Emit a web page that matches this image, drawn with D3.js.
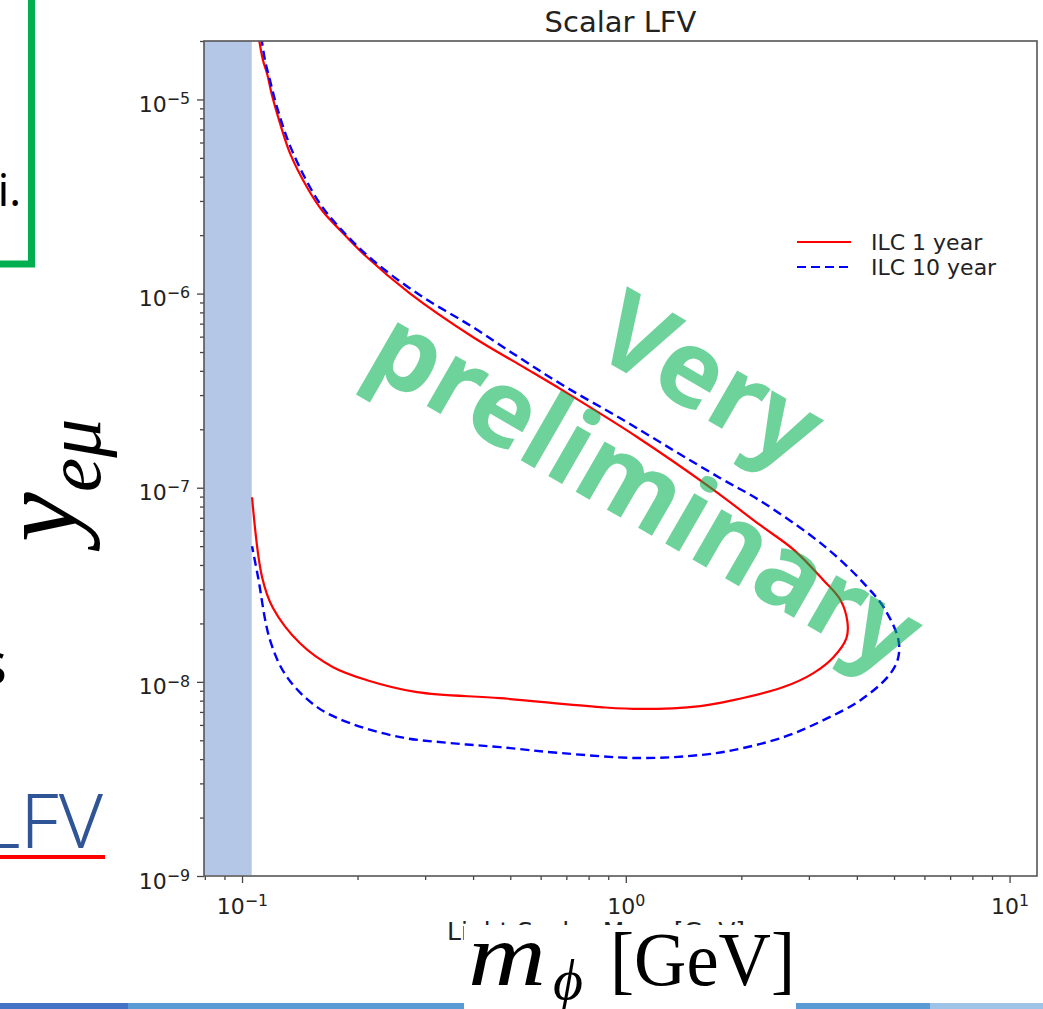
<!DOCTYPE html>
<html>
<head>
<meta charset="utf-8">
<style>
  body { margin: 0; background: #fff; overflow: hidden; }
  svg  { display: block; }
  .mpl { font-family: "DejaVu Sans", sans-serif; fill: #222; }
  .tex { font-family: "Liberation Serif", "DejaVu Serif", serif; fill: #000; }
</style>
<title>Scalar LFV</title>
</head>
<body>
<script src="https://cdn.jsdelivr.net/npm/d3@7/dist/d3.min.js"></script>
<script>

// data ///////////////////////////////////////////////////////////////////////

// ILC 1 year contour (mass in GeV, coupling y_emu)
var ilc1_mass = [0.1105, 0.1134, 0.1162, 0.1197, 0.1234, 0.1334, 0.1478, 0.1617, 0.1823, 0.2093,
                 0.2742, 0.4003, 0.5307, 0.6831, 1.072, 1.651, 2.242, 2.750, 3.273, 3.625,
                 3.781, 3.758, 3.476, 3.083, 2.575, 1.906, 1.564, 1.091, 0.858, 0.471,
                 0.286, 0.2118, 0.1727, 0.1416, 0.1204, 0.1128, 0.1062];
var ilc1_y    = [2.1e-5, 1.59e-5, 1.36e-5, 1.05e-5, 8.47e-6, 5.27e-6, 3.52e-6, 2.68e-6, 2.07e-6, 1.57e-6,
                 1.00e-6, 5.96e-7, 4.28e-7, 3.18e-7, 1.82e-7, 1.01e-7, 6.41e-8, 4.76e-8, 3.34e-8, 2.64e-8,
                 2.03e-8, 1.68e-8, 1.34e-8, 1.11e-8, 9.40e-9, 8.05e-9, 7.50e-9, 7.25e-9, 7.41e-9, 8.24e-9,
                 8.85e-9, 1.02e-8, 1.19e-8, 1.58e-8, 2.40e-8, 3.46e-8, 8.93e-8];

// ILC 10 year contour
var ilc10_mass = [0.1122, 0.1148, 0.1183, 0.1241, 0.1350, 0.1579, 0.1801, 0.2196, 0.2911, 0.4003,
                  0.5307, 0.6996, 0.9676, 1.330, 1.764, 2.229, 3.028, 3.625, 4.212, 4.693,
                  5.135, 5.105, 4.808, 4.088, 3.273, 2.575, 1.906, 1.564, 1.091, 0.675,
                  0.471, 0.3486, 0.2582, 0.1912, 0.1569, 0.1310, 0.1183, 0.1101, 0.1062];
var ilc10_y    = [2.1e-5, 1.59e-5, 1.25e-5, 8.77e-6, 5.45e-6, 3.00e-6, 2.17e-6, 1.48e-6, 9.80e-7, 6.70e-7,
                  4.65e-7, 3.29e-7, 2.28e-7, 1.56e-7, 1.12e-7, 8.62e-8, 5.69e-8, 4.24e-8, 3.15e-8, 2.43e-8,
                  1.64e-8, 1.29e-8, 1.058e-8, 8.05e-9, 6.35e-9, 5.19e-9, 4.45e-9, 4.20e-9, 4.05e-9, 4.30e-9,
                  4.61e-9, 4.84e-9, 5.19e-9, 6.13e-9, 7.41e-9, 1.058e-8, 1.64e-8, 3.46e-8, 5.00e-8];

var excluded_mass = 0.106;   // shaded band below this mass

var x_ticks = [0.1, 1, 10];
var x_exps  = ["\u22121", "0", "1"];
var y_ticks = [1e-9, 1e-8, 1e-7, 1e-6, 1e-5];
var y_exps  = ["\u22129", "\u22128", "\u22127", "\u22126", "\u22125"];

var legend_labels = ["ILC 1 year", "ILC 10 year"];

// helpers ////////////////////////////////////////////////////////////////////

var W = 1043, H = 1009;
var plot = {left: 204, top: 41, right: 1037, bottom: 876};

var svg = d3.select("body").append("svg")
    .attr("width", W)
    .attr("height", H);

var x = d3.scaleLog()
    .domain([0.0796, 11.79])
    .range([plot.left, plot.right]);

var y = d3.scaleLog()
    .domain([1e-9, 2e-5])
    .range([plot.bottom, plot.top]);

function minors(lo, hi) {
    var out = [];
    for (var e = Math.floor(Math.log10(lo)); e <= Math.ceil(Math.log10(hi)); e++)
        for (var k = 2; k <= 9; k++) {
            var v = k * Math.pow(10, e);
            if (v >= lo && v <= hi) out.push(v);
        }
    return out;
}

function power_label(sel, exps) {
    sel.selectAll("text").each(function(d, i) {
        var t = d3.select(this).text(null);
        t.append("tspan").text("10");
        t.append("tspan").attr("dy", "-0.5em").attr("font-size", "0.72em").text(exps[i]);
    });
}

// slide decoration ///////////////////////////////////////////////////////////

svg.append("rect")
    .attr("x", -10).attr("y", -10).attr("width", 41.5).attr("height", 274)
    .attr("fill", "none").attr("stroke", "#00b050").attr("stroke-width", 7);
svg.append("text")
    .attr("x", 21).attr("y", 206).attr("text-anchor", "end")
    .attr("font-family", "Noto Sans").attr("font-size", 44).attr("fill", "#000")
    .text("i.");

svg.append("text")
    .attr("x", 7).attr("y", 684).attr("text-anchor", "end")
    .attr("font-family", "Noto Sans").attr("font-size", 58).attr("fill", "#000")
    .text("s");

svg.append("text")
    .attr("x", 103).attr("y", 848).attr("text-anchor", "end")
    .attr("font-family", "Noto Sans").attr("font-weight", 300)
    .attr("font-size", 76).attr("fill", "#2f5597")
    .text("LFV");
svg.append("rect")
    .attr("x", 0).attr("y", 855).attr("width", 105).attr("height", 4)
    .attr("fill", "#ff0000");

// bottom colour bar
[[0, 128, "#4472c4"], [128, 930, "#5b9bd5"], [930, W, "#9dc3e6"]].forEach(function(b) {
    svg.append("rect")
        .attr("x", b[0]).attr("y", 1003).attr("width", b[1] - b[0]).attr("height", 6)
        .attr("fill", b[2]);
});

// plot ///////////////////////////////////////////////////////////////////////

var defs = svg.append("defs");
defs.append("clipPath").attr("id", "clip")
  .append("rect")
    .attr("x", plot.left).attr("y", plot.top)
    .attr("width", plot.right - plot.left).attr("height", plot.bottom - plot.top);
var xclip = defs.append("clipPath").attr("id", "xlabel-clip");
xclip.append("rect").attr("x", 0).attr("y", 0).attr("width", 464).attr("height", H);
xclip.append("rect").attr("x", 0).attr("y", 0).attr("width", W).attr("height", 925);

var g = svg.append("g").attr("clip-path", "url(#clip)");

g.append("rect")
    .attr("x", x(x.domain()[0]))
    .attr("y", plot.top)
    .attr("width", x(excluded_mass) - x(x.domain()[0]))
    .attr("height", plot.bottom - plot.top - 1)
    .attr("fill", "#b4c7e7");

var line = d3.line()
    .x(d => x(d[0]))
    .y(d => y(d[1]))
    .curve(d3.curveCatmullRom.alpha(0.5));

g.append("path")
    .attr("d", line(d3.zip(ilc1_mass, ilc1_y)))
    .attr("fill", "none")
    .attr("stroke", "#ff0000")
    .attr("stroke-width", 2.2);

g.append("path")
    .attr("d", line(d3.zip(ilc10_mass, ilc10_y)))
    .attr("fill", "none")
    .attr("stroke", "#0000ff")
    .attr("stroke-width", 2.4)
    .attr("stroke-dasharray", "9,5");

// axes
var yMinor = svg.append("g")
    .attr("transform", `translate(${plot.left},0)`)
    .call(d3.axisLeft(y).tickValues(minors(1e-9, 2e-5)).tickSize(4).tickFormat(""));
var yMajor = svg.append("g")
    .attr("class", "mpl")
    .attr("transform", `translate(${plot.left},0)`)
    .call(d3.axisLeft(y).tickValues(y_ticks).tickSize(7).tickPadding(7))
    .call(power_label, y_exps);

var xMinor = svg.append("g")
    .attr("transform", `translate(0,${plot.bottom})`)
    .call(d3.axisBottom(x).tickValues(minors(0.0796, 11.79)).tickSize(4).tickFormat(""));
var xMajor = svg.append("g")
    .attr("class", "mpl")
    .attr("transform", `translate(0,${plot.bottom})`)
    .call(d3.axisBottom(x).tickValues(x_ticks).tickSize(7).tickPadding(8))
    .call(power_label, x_exps);

[yMinor, yMajor, xMinor, xMajor].forEach(function(a) {
    a.select(".domain").remove();
    a.selectAll("line").attr("stroke", "#444").attr("stroke-width", 1.3);
    a.selectAll("text").attr("font-family", "DejaVu Sans").attr("font-size", 22).attr("fill", "#222");
});
yMajor.selectAll("text").attr("dy", "0.55em");
xMajor.selectAll("text").attr("dy", "1.05em");

svg.append("rect")
    .attr("x", plot.left).attr("y", plot.top)
    .attr("width", plot.right - plot.left).attr("height", plot.bottom - plot.top)
    .attr("fill", "none").attr("stroke", "#555").attr("stroke-width", 1.6);

svg.append("text")
    .attr("class", "mpl")
    .attr("x", (plot.left + plot.right) / 2).attr("y", 32)
    .attr("text-anchor", "middle").attr("font-size", 29)
    .text("Scalar LFV");

// legend
var legend = svg.append("g").attr("class", "mpl");
[["#ff0000", null], ["#0000ff", "9,5"]].forEach(function(s, i) {
    var ly = 242 + i * 25;
    legend.append("line")
        .attr("x1", 797).attr("x2", 851).attr("y1", ly).attr("y2", ly)
        .attr("stroke", s[0]).attr("stroke-width", 2.2).attr("stroke-dasharray", s[1]);
    legend.append("text")
        .attr("x", 871).attr("y", ly + 8)
        .attr("font-size", 22)
        .text(legend_labels[i]);
});

// matplotlib x label, mostly hidden under the slide's own label
svg.append("text")
    .attr("class", "mpl")
    .attr("clip-path", "url(#xlabel-clip)")
    .attr("x", 447).attr("y", 940)
    .attr("font-size", 25)
    .text("Light Scalar Mass [GeV]");

// slide labels ///////////////////////////////////////////////////////////////

svg.append("rect")
    .attr("x", 464).attr("y", 925).attr("width", 332).attr("height", 90)
    .attr("fill", "#fff");

var xl = svg.append("g").attr("class", "tex");
xl.append("text")
    .attr("x", 468).attr("y", 985)
    .attr("font-size", 88).attr("font-style", "italic")
    .attr("textLength", 78).attr("lengthAdjust", "spacingAndGlyphs")
    .text("m");
xl.append("text")
    .attr("x", 553).attr("y", 999)
    .attr("font-size", 58).attr("font-style", "italic")
    .text("\u03d5");
xl.append("text")
    .attr("x", 610).attr("y", 985)
    .attr("font-size", 76)
    .attr("textLength", 185).attr("lengthAdjust", "spacingAndGlyphs")
    .text("[GeV]");

var yl = svg.append("text")
    .attr("class", "tex")
    .attr("transform", "translate(76,542) rotate(-90)")
    .attr("font-size", 112);
yl.append("tspan").attr("font-style", "italic").text("y");
yl.append("tspan").attr("font-style", "italic").attr("font-size", 78).attr("dy", 24).text("e\u03bc");

// watermark
var wm = svg.append("g")
    .attr("transform", "translate(628,522) rotate(30)")
    .attr("font-family", "Noto Sans")
    .attr("font-weight", "bold")
    .attr("font-size", 106)
    .attr("fill", "#00b050")
    .attr("fill-opacity", 0.57)
    .attr("text-anchor", "middle");
wm.append("text").attr("y", -128).text("Very");
wm.append("text").attr("y", 0).text("preliminary");

</script>
</body>
</html>
